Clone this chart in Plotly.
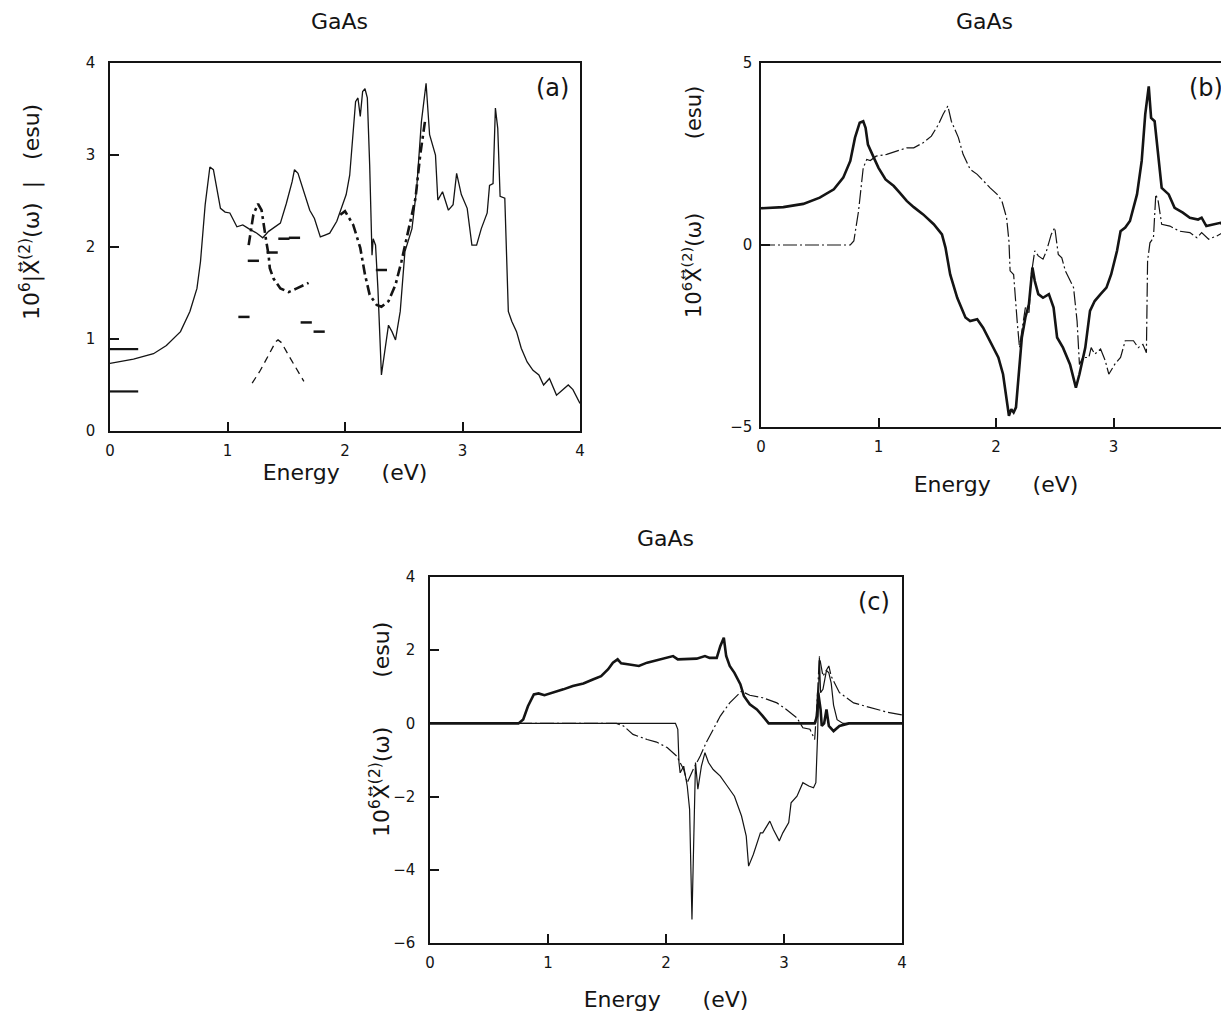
import plotly.graph_objects as go

W, H = 1229, 1019
OFF = 8  # page body margin of the browser

# ---------------- Panel (a): |chi(2)| ----------------
a_solid_E = [0.00,0.20,0.37,0.48,0.60,0.68,0.74,0.77,0.81,0.85,0.88,0.94,0.98,1.02,1.08,1.13,1.18,1.25,1.30,1.35,1.45,1.50,1.55,1.57,1.60,1.65,1.70,1.74,1.79,1.83,1.87,1.93,1.97,2.01,2.04,2.07,2.09,2.11,2.13,2.15,2.17,2.19,2.21,2.23,2.24,2.26,2.28,2.31,2.34,2.37,2.40,2.43,2.47,2.51,2.57,2.61,2.65,2.69,2.72,2.77,2.79,2.83,2.88,2.92,2.95,2.99,3.04,3.08,3.12,3.16,3.21,3.23,3.26,3.28,3.30,3.32,3.36,3.39,3.42,3.46,3.50,3.55,3.60,3.65,3.69,3.74,3.80,3.84,3.90,3.94,4.00]
a_solid_V = [0.735,0.78,0.84,0.93,1.08,1.30,1.55,1.84,2.46,2.87,2.84,2.42,2.38,2.37,2.22,2.24,2.20,2.15,2.10,2.17,2.26,2.47,2.71,2.84,2.80,2.60,2.40,2.31,2.11,2.13,2.15,2.28,2.42,2.57,2.78,3.25,3.58,3.62,3.42,3.69,3.72,3.62,2.89,1.91,2.09,2.02,1.55,0.61,0.90,1.15,1.08,0.99,1.30,1.95,2.20,2.64,3.36,3.78,3.22,3.00,2.51,2.60,2.40,2.46,2.80,2.57,2.42,2.02,2.02,2.20,2.37,2.67,2.69,3.51,3.29,2.55,2.53,1.30,1.19,1.08,0.90,0.75,0.66,0.61,0.50,0.57,0.39,0.43,0.50,0.45,0.30]

a_dd1_E = [1.18,1.22,1.26,1.29,1.33,1.35,1.36,1.39,1.45,1.52,1.59,1.69]
a_dd1_V = [2.02,2.35,2.47,2.40,2.06,1.91,1.77,1.66,1.55,1.51,1.55,1.61]
a_dd2_E = [1.96,2.00,2.07,2.13,2.17,2.21,2.27,2.31,2.37,2.43,2.48,2.54,2.60,2.64,2.68]
a_dd2_V = [2.35,2.39,2.24,1.99,1.70,1.48,1.37,1.35,1.41,1.59,1.84,2.17,2.53,3.00,3.36]

a_dash_E = [1.21,1.28,1.36,1.41,1.43,1.46,1.53,1.60,1.65]
a_dash_V = [0.52,0.66,0.85,0.97,0.99,0.96,0.80,0.65,0.54]

a_pts_E = [1.22,1.38,1.48,1.57,2.31,1.14,1.67,1.78]
a_pts_V = [1.85,1.94,2.09,2.10,1.75,1.24,1.18,1.08]

a_level_V = [0.89, 0.43]
a_level_E = [0.00, 0.24]

# ---------------- Panel (b) ----------------
b_solid_E = [0.00,0.19,0.36,0.50,0.62,0.70,0.76,0.80,0.84,0.87,0.89,0.91,0.96,1.00,1.06,1.13,1.18,1.24,1.30,1.38,1.47,1.54,1.57,1.61,1.67,1.74,1.78,1.84,1.89,1.96,2.02,2.06,2.09,2.11,2.13,2.15,2.17,2.19,2.22,2.25,2.28,2.31,2.33,2.36,2.40,2.45,2.49,2.52,2.57,2.63,2.68,2.71,2.76,2.80,2.84,2.89,2.94,2.98,3.03,3.06,3.10,3.14,3.20,3.24,3.27,3.30,3.32,3.35,3.38,3.41,3.47,3.52,3.59,3.65,3.72,3.75,3.79,3.85,3.91,3.99]
b_solid_V = [1.01,1.04,1.13,1.30,1.53,1.85,2.31,2.95,3.36,3.40,3.22,2.76,2.40,2.12,1.80,1.62,1.44,1.21,1.04,0.84,0.57,0.29,-0.07,-0.81,-1.45,-1.99,-2.09,-2.04,-2.27,-2.73,-3.09,-3.55,-4.28,-4.69,-4.51,-4.60,-4.46,-3.73,-2.54,-1.99,-1.63,-0.62,-0.99,-1.35,-1.45,-1.35,-1.72,-2.54,-2.82,-3.28,-3.92,-3.55,-2.82,-1.81,-1.54,-1.35,-1.17,-0.81,-0.16,0.38,0.48,0.66,1.39,2.31,3.59,4.36,3.49,3.40,2.49,1.57,1.39,1.02,0.89,0.75,0.70,0.75,0.52,0.57,0.61,0.38]

b_dd_E = [0.00,0.76,0.79,0.83,0.87,0.90,0.93,0.98,1.07,1.15,1.24,1.30,1.38,1.45,1.51,1.55,1.59,1.62,1.68,1.72,1.78,1.84,1.89,1.95,2.01,2.05,2.09,2.11,2.12,2.15,2.18,2.20,2.22,2.25,2.28,2.30,2.33,2.36,2.40,2.43,2.47,2.50,2.53,2.56,2.59,2.63,2.66,2.69,2.71,2.74,2.79,2.81,2.84,2.89,2.93,2.96,3.01,3.06,3.10,3.17,3.21,3.25,3.28,3.29,3.31,3.34,3.36,3.38,3.41,3.48,3.56,3.65,3.71,3.75,3.81,3.88,3.93,3.99]
b_dd_V = [0.00,0.00,0.11,0.93,2.12,2.35,2.32,2.44,2.49,2.58,2.67,2.67,2.81,2.99,3.31,3.59,3.82,3.40,2.95,2.49,2.08,1.94,1.76,1.57,1.39,1.21,0.75,0.11,-0.71,-0.81,-2.09,-2.82,-2.36,-1.72,-1.90,-0.81,-0.16,-0.30,-0.39,-0.16,0.29,0.48,-0.26,-0.35,-0.71,-0.99,-1.17,-2.09,-3.28,-3.09,-3.09,-2.82,-3.00,-2.86,-3.18,-3.55,-3.28,-3.09,-2.63,-2.63,-2.82,-2.73,-2.96,-0.44,0.06,0.20,1.39,1.21,0.57,0.52,0.38,0.34,0.20,0.34,0.16,0.25,0.34,0.29]

# ---------------- Panel (c) ----------------
c_thick_E = [0.00,0.75,0.79,0.83,0.88,0.92,0.97,1.05,1.13,1.21,1.30,1.38,1.45,1.51,1.55,1.59,1.62,1.69,1.77,1.84,1.92,2.01,2.06,2.10,2.18,2.26,2.33,2.37,2.43,2.46,2.49,2.51,2.54,2.58,2.63,2.66,2.71,2.77,2.82,2.87,3.26,3.28,3.29,3.31,3.32,3.34,3.36,3.38,3.42,3.47,3.55,4.00]
c_thick_V = [0,0,0.11,0.47,0.79,0.82,0.77,0.84,0.93,1.02,1.09,1.20,1.29,1.48,1.66,1.75,1.64,1.61,1.57,1.66,1.73,1.79,1.84,1.75,1.77,1.77,1.84,1.79,1.79,2.11,2.34,1.84,1.57,1.38,1.07,0.75,0.52,0.38,0.20,0,0,0.20,0.84,0.38,-0.07,0,0.38,-0.07,-0.21,-0.07,0,0]

c_thin_E = [0.00,2.08,2.10,2.11,2.12,2.15,2.18,2.20,2.22,2.24,2.25,2.27,2.30,2.33,2.36,2.40,2.46,2.51,2.58,2.64,2.68,2.70,2.74,2.80,2.82,2.88,2.91,2.96,2.99,3.04,3.06,3.11,3.16,3.21,3.25,3.27,3.285,3.30,3.31,3.33,3.36,3.38,3.40,3.42,3.45,3.50,4.00]
c_thin_V = [0,0,-0.16,-1.07,-1.35,-1.17,-1.71,-2.35,-5.36,-2.17,-1.07,-1.80,-1.17,-0.80,-1.07,-1.26,-1.44,-1.67,-1.99,-2.53,-3.08,-3.90,-3.58,-2.99,-2.99,-2.67,-2.90,-3.21,-2.99,-2.71,-2.17,-1.99,-1.62,-1.71,-1.76,-1.62,-0.30,1.80,0.84,0.93,1.45,1.38,1.10,0.50,0.10,0,0]

c_dd_E = [0.00,1.58,1.64,1.72,1.84,1.92,2.01,2.09,2.15,2.18,2.23,2.29,2.34,2.40,2.46,2.54,2.64,2.71,2.82,2.94,3.02,3.11,3.16,3.22,3.26,3.28,3.30,3.33,3.38,3.40,3.47,3.59,3.73,3.87,4.00]
c_dd_V = [0,0,-0.07,-0.30,-0.44,-0.51,-0.66,-0.89,-1.26,-1.62,-1.26,-0.89,-0.53,-0.16,0.20,0.56,0.88,0.77,0.70,0.56,0.38,0.15,-0.12,-0.16,-0.44,0.56,1.83,1.29,1.57,1.29,0.84,0.56,0.43,0.31,0.23]

# tick labels
a_xticks = [0, 1, 2, 3, 4]
a_yticks = [0, 1, 2, 3, 4]
b_xticks = [0, 1, 2, 3, 4]
b_yticks = [-5, 0, 5]
c_xticks = [0, 1, 2, 3, 4]
c_yticks = [-6, -4, -2, 0, 2, 4]

INK = "#141414"
FONT = "DejaVu Sans"
NB = "\u00a0"
XTITLE = "Energy" + NB * 6 + "(eV)"

def px(x):
    return (x - OFF) / W

def py(y):
    return 1 - (y - OFF) / H

fig = go.Figure()

def line(x, y, ax, width, dash="solid"):
    fig.add_trace(go.Scatter(x=x, y=y, xaxis=ax[0], yaxis=ax[1], mode="lines",
                             line=dict(color=INK, width=width, dash=dash),
                             showlegend=False, hoverinfo="skip"))

A = ("x", "y"); B = ("x2", "y2"); C = ("x3", "y3")

# panel (a)
line(a_solid_E, a_solid_V, A, 1.3)
line(a_dd1_E + [None] + a_dd2_E, a_dd1_V + [None] + a_dd2_V, A, 2.6, "10px,4px,3px,4px")
line(a_dash_E, a_dash_V, A, 1.3, "7px,5px")
for lv in a_level_V:
    line(a_level_E, [lv, lv], A, 2.2)
fig.add_trace(go.Scatter(x=a_pts_E, y=a_pts_V, xaxis="x", yaxis="y", mode="markers",
                         marker=dict(symbol="line-ew", size=8, line=dict(color=INK, width=2.5)),
                         showlegend=False, hoverinfo="skip"))

# panel (b)
line(b_solid_E, b_solid_V, B, 2.6)
line(b_dd_E, b_dd_V, B, 1.2, "14px,3px,2px,3px")

# panel (c)
line(c_thick_E, c_thick_V, C, 2.6)
line(c_thin_E, c_thin_V, C, 1.2)
line(c_dd_E, c_dd_V, C, 1.2, "14px,3px,2px,3px")

axis_common = dict(showgrid=False, zeroline=False, showline=True, linecolor=INK, linewidth=1.5,
                   ticks="inside", ticklen=9, tickwidth=1.5, tickcolor=INK,
                   tickfont=dict(family=FONT, size=15, color=INK))

def xtitle(standoff):
    return dict(text=XTITLE, font=dict(family=FONT, size=22, color=INK), standoff=standoff)

fig.update_layout(
    width=W, height=H, margin=dict(l=0, r=0, t=0, b=0, autoexpand=False),
    paper_bgcolor="white", plot_bgcolor="white",
    xaxis=dict(axis_common, domain=[px(110), px(580)], range=[0, 4], tickvals=a_xticks,
               anchor="y", mirror=True, ticklabelstandoff=5, title=xtitle(1)),
    yaxis=dict(axis_common, domain=[py(431), py(63)], range=[0, 4], tickvals=a_yticks,
               anchor="x", mirror=True, ticklabelstandoff=10),
    xaxis2=dict(axis_common, domain=[px(761), px(1231)], range=[0, 4], tickvals=b_xticks,
                anchor="y2", mirror=True, ticklabelstandoff=5, title=xtitle(22)),
    yaxis2=dict(axis_common, domain=[py(427), py(63)], range=[-5, 5], tickvals=b_yticks,
                anchor="x2", mirror=True, ticklabelstandoff=4),
    xaxis3=dict(axis_common, domain=[px(430), px(902)], range=[0, 4], tickvals=c_xticks,
                anchor="y3", mirror=True, ticklabelstandoff=5, title=xtitle(21)),
    yaxis3=dict(axis_common, domain=[py(943), py(577)], range=[-6, 4], tickvals=c_yticks,
                anchor="x3", mirror=True, ticklabelstandoff=10),
)

def ann(text, x, y, size=20, angle=0):
    fig.add_annotation(text=text, x=px(x), y=py(y), xref="paper", yref="paper",
                       showarrow=False, textangle=angle, xanchor="center", yanchor="middle",
                       font=dict(family=FONT, size=size, color=INK))

chi = "X\u20e1<sup>(2)</sup>(ω)"
# titles
ann("GaAs", 340, 22, 22)
ann("GaAs", 985, 22, 22)
ann("GaAs", 665, 538, 22)
# y-axis titles
ann("10<sup>6</sup>|" + chi + NB * 2 + "|" + NB * 3 + "(esu)", 30, 212, 22, -90)
ann("10<sup>6</sup>" + chi + NB * 11 + "(esu)", 692, 202, 21, -90)
ann("10<sup>6</sup>" + chi + NB * 7 + "(esu)", 380, 730, 22, -90)
# panel labels
ann("(a)", 552, 88, 24)
ann("(b)", 1206, 88, 24)
ann("(c)", 874, 602, 24)

fig.write_html("out.html")
